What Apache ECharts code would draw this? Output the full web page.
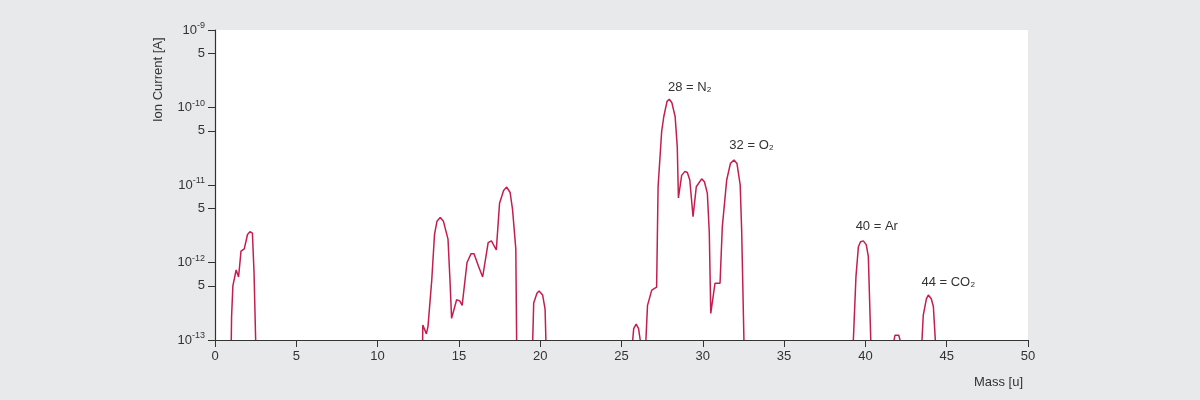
<!DOCTYPE html>
<html><head><meta charset="utf-8">
<script src="https://cdn.jsdelivr.net/npm/echarts@6/dist/echarts.min.js"></script>
<style>html,body{margin:0;padding:0;background:#e8e9eb}#c{width:1200px;height:400px}</style>
</head><body><div id="c"></div>
<script>
// [mass u, ion current A]; null separates peaks
const spectrum = [
 [1.0,1e-13],[1.02,2e-13],[1.1,5e-13],[1.3,8e-13],[1.45,6.5e-13],[1.6,1.4e-12],[1.8,1.5e-12],[2.0,2.3e-12],[2.15,2.5e-12],[2.3,2.4e-12],[2.4,7.5e-13],[2.5,1e-13],null,
 [12.77,1e-13],[12.78,1.56e-13],[12.9,1.5e-13],[13.0,1.2e-13],[13.1,1.5e-13],[13.33,5.9e-13],[13.5,2.3e-12],[13.65,3.4e-12],[13.85,3.8e-12],[14.05,3.4e-12],[14.33,2e-12],[14.45,6e-13],[14.55,1.9e-13],[14.86,3.3e-13],[15.05,3.2e-13],[15.2,2.8e-13],[15.5,1e-12],[15.75,1.3e-12],[15.93,1.3e-12],[16.2,9e-13],[16.46,6.5e-13],[16.8,1.8e-12],[17.0,1.9e-12],[17.3,1.45e-12],[17.5,5.8e-12],[17.75,8.5e-12],[17.94,9.4e-12],[18.15,8e-12],[18.3,4.8e-12],[18.5,1.5e-12],[18.55,1e-13],null,
 [19.54,1e-13],[19.6,3e-13],[19.8,4e-13],[19.93,4.3e-13],[20.15,3.8e-13],[20.3,2.5e-13],[20.35,1e-13],null,
 [25.69,1e-13],[25.75,1.4e-13],[25.9,1.6e-13],[26.05,1.4e-13],[26.15,1e-13],null,
 [26.5,1e-13],[26.6,2.8e-13],[26.86,4.4e-13],[27.16,4.8e-13],[27.25,9.5e-12],[27.47,4.9e-11],[27.6,7.6e-11],[27.8,1.2e-10],[27.94,1.28e-10],[28.1,1.15e-10],[28.3,7.6e-11],[28.43,3.1e-11],[28.5,6.8e-12],[28.7,1.33e-11],[28.9,1.5e-11],[29.05,1.45e-11],[29.2,1.16e-11],[29.4,3.9e-12],[29.6,9.5e-12],[29.93,1.2e-11],[30.1,1.1e-11],[30.28,7.8e-12],[30.4,2.4e-12],[30.49,2.2e-13],[30.75,5.4e-13],[31.06,5.4e-13],[31.2,2.9e-12],[31.47,1.16e-11],[31.7,1.9e-11],[31.92,2.1e-11],[32.1,1.9e-11],[32.3,1e-11],[32.39,2.6e-12],[32.53,1e-13],null,
 [39.26,1e-13],[39.42,6.6e-13],[39.57,1.6e-12],[39.7,1.85e-12],[39.87,1.9e-12],[40.05,1.7e-12],[40.18,1.2e-12],[40.33,1e-13],null,
 [41.76,1e-13],[41.82,1.15e-13],[41.92,1.22e-13],[42.05,1.15e-13],[42.13,1e-13],null,
 [43.48,1e-13],[43.56,2.1e-13],[43.75,3.4e-13],[43.87,3.8e-13],[44.05,3.4e-13],[44.18,2.7e-13],[44.3,1e-13]
];
const peakLabels = [["28 = N₂",29.2,1.8e-10],["32 = O₂",33.0,3.2e-11],["40 = Ar",40.7,2.9e-12],["44 = CO₂",45.1,5.6e-13]];
const yExp = [-13,-12,-11,-10,-9];
const xTicks = [0,5,10,15,20,25,30,35,40,45,50];

const data = spectrum.map(p => p ? [p[0], Math.log10(p[1])] : [null,null]);
const sup = {'-':'⁻','0':'⁰','1':'¹','2':'²','3':'³','9':'⁹'};
const col = '#333', font = 'Liberation Sans';
const chart = echarts.init(document.getElementById('c'));
chart.setOption({
 backgroundColor:'#e8e9eb',
 textStyle:{fontFamily:font},
 grid:[{left:215,right:172,top:30,height:310,backgroundColor:'#fff',show:true,borderWidth:0},
       {left:215,right:172,top:30+0.30103*77.5,height:3*77.5,show:false}],
 xAxis:[{type:'value',min:0,max:50,interval:5,gridIndex:0,
   axisLine:{lineStyle:{color:col,width:1.2}},axisTick:{length:7,lineStyle:{color:col}},
   splitLine:{show:false},axisLabel:{color:col,fontSize:13,margin:10}},
  {type:'value',min:0,max:50,gridIndex:1,show:false}],
 yAxis:[{type:'value',min:-13,max:-9,interval:1,gridIndex:0,
   axisLine:{show:true,lineStyle:{color:col,width:1.2}},axisTick:{show:true,inside:false,length:7,lineStyle:{color:col}},
   splitLine:{show:false},
   axisLabel:{color:col,fontSize:13,margin:10,formatter:v=>'{a|10}{b|'+String(v)+'}',
     rich:{a:{fontSize:13,color:col,fontFamily:font},b:{fontSize:9,color:col,verticalAlign:'top',padding:[0,0,8,0],fontFamily:font}}}},
  {type:'value',min:-12.30103,max:-9.30103,interval:1,gridIndex:1,
   axisLine:{show:false},axisTick:{show:true,length:7,lineStyle:{color:col}},
   splitLine:{show:false},axisLabel:{color:col,fontSize:13,margin:10,formatter:()=> '5'}}],
 series:[{type:'line',data:data,xAxisIndex:0,yAxisIndex:0,symbol:'none',connectNulls:false,
   lineStyle:{color:'#c41e4e',width:1.5},clip:true,animation:false,
   markPoint:{symbol:'circle',symbolSize:0,animation:false,
     label:{show:true,color:col,fontSize:13,position:'inside',formatter:p=>p.name},
     data:peakLabels.map(l=>({name:l[0],coord:[l[1],Math.log10(l[2])]}))}},
  {type:'line',data:[],xAxisIndex:1,yAxisIndex:1}],
 graphic:[
  {type:'text',left:144,top:30,rotation:Math.PI/2,style:{text:'Ion Current [A]',fill:col,font:'13px '+font},
   x:152,y:122,left:null,top:null},
  {type:'text',right:177,top:376,style:{text:'Mass [u]',fill:col,font:'13px '+font}}
 ]
});
</script></body></html>
